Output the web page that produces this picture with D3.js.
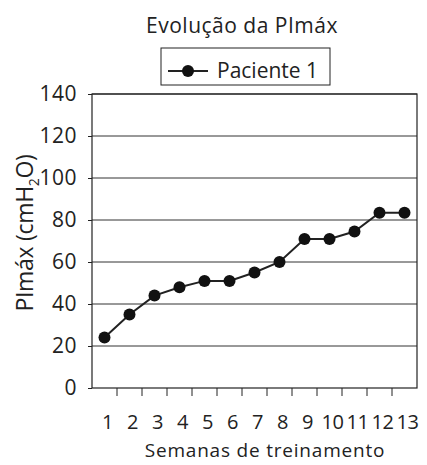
<!DOCTYPE html>
<html>
<head>
<meta charset="utf-8">
<script src="https://cdn.jsdelivr.net/npm/d3@7"></script>
<style>
  body { margin: 0; background: #fff; }
  text { font-family: "Open Sans", "DejaVu Sans", sans-serif; fill: #222; }
</style>
</head>
<body>
<div id="chart"></div>
<script>
const weeks = ["1", "2", "3", "4", "5", "6", "7", "8", "9", "10", "11", "12", "13"];
const pimax = [24, 35, 44, 48, 51, 51, 55, 60, 71, 71, 74.5, 83.5, 83.5];
const yTicks = [0, 20, 40, 60, 80, 100, 120, 140];

const width = 427, height = 465;
const margin = {top: 94, right: 10, bottom: 77, left: 92};

const svg = d3.select("#chart").append("svg")
    .attr("width", width)
    .attr("height", height);

const x = d3.scaleBand()
    .domain(weeks)
    .range([margin.left, width - margin.right]);

const y = d3.scaleLinear()
    .domain([0, 140])
    .range([height - margin.bottom, margin.top]);

// gridlines
svg.append("g")
  .selectAll("line")
    .data(yTicks.slice(1))
  .enter()
    .append("line")
    .attr("x1", margin.left)
    .attr("x2", width - margin.right)
    .attr("y1", d => y(d))
    .attr("y2", d => y(d))
    .style("stroke", "#333")
    .style("stroke-width", 1);

// frame
svg.append("rect")
    .attr("x", margin.left)
    .attr("y", margin.top)
    .attr("width", width - margin.left - margin.right)
    .attr("height", height - margin.top - margin.bottom)
    .style("fill", "none")
    .style("stroke", "#222")
    .style("stroke-width", 1.2);

// y axis
const yAxis = svg.append("g")
    .attr("transform", "translate(" + margin.left + ",0)")
    .call(d3.axisLeft(y).tickValues(yTicks).tickSize(4).tickPadding(11));
yAxis.select(".domain").remove();
yAxis.selectAll("line").style("stroke", "#222");
yAxis.selectAll("text")
    .style("font-size", "21px")
    .style("font-family", '"Open Sans", sans-serif')
    .style("letter-spacing", "0.5px")
    .attr("fill", "#222");

// x axis: ticks between categories, labels at category centres
const bounds = weeks.slice(1).map(d => x(d));
svg.append("g")
  .selectAll("line")
    .data(bounds)
  .enter()
    .append("line")
    .attr("x1", d => d)
    .attr("x2", d => d)
    .attr("y1", y(0))
    .attr("y2", y(0) + 8)
    .style("stroke", "#222");

svg.append("g")
  .selectAll("text")
    .data(weeks)
  .enter()
    .append("text")
    .attr("x", d => x(d) + x.bandwidth() / 2 + 3)
    .attr("y", y(0) + 41)
    .attr("text-anchor", "middle")
    .style("font-size", "20px")
    .style("letter-spacing", "-0.5px")
    .text(d => d);

// line + markers
const line = d3.line()
    .x((d, i) => x(weeks[i]) + x.bandwidth() / 2)
    .y(d => y(d));

svg.append("path")
    .datum(pimax)
    .attr("d", line)
    .style("fill", "none")
    .style("stroke", "#222")
    .style("stroke-width", 2);

svg.append("g")
  .selectAll("circle")
    .data(pimax)
  .enter()
    .append("circle")
    .attr("cx", (d, i) => x(weeks[i]) + x.bandwidth() / 2)
    .attr("cy", d => y(d))
    .attr("r", 6)
    .style("fill", "#111");

// title
svg.append("text")
    .attr("x", 242)
    .attr("y", 33)
    .attr("text-anchor", "middle")
    .style("font-size", "21px")
    .style("letter-spacing", "0.5px")
    .text("Evolução da PImáx");

// legend
const legend = svg.append("g");
legend.append("rect")
    .attr("x", 161).attr("y", 48)
    .attr("width", 169).attr("height", 37)
    .style("fill", "none")
    .style("stroke", "#222");
legend.append("line")
    .attr("x1", 168).attr("x2", 208)
    .attr("y1", 71).attr("y2", 71)
    .style("stroke", "#222")
    .style("stroke-width", 2);
legend.append("circle")
    .attr("cx", 188).attr("cy", 71).attr("r", 6)
    .style("fill", "#111");
legend.append("text")
    .attr("x", 217).attr("y", 78)
    .style("font-size", "21px")
    .text("Paciente 1");

// axis titles
svg.append("text")
    .attr("x", 265)
    .attr("y", 457)
    .attr("text-anchor", "middle")
    .style("font-size", "19px")
    .style("letter-spacing", "0.8px")
    .text("Semanas de treinamento");

const yTitle = svg.append("text")
    .attr("transform", "translate(33,233) rotate(-90)")
    .attr("text-anchor", "middle")
    .style("font-size", "23px")
    .style("letter-spacing", "-0.3px");
yTitle.append("tspan").text("PImáx (cmH");
yTitle.append("tspan").attr("dy", 6).style("font-size", "14px").text("2");
yTitle.append("tspan").attr("dy", -6).text("O)");
</script>
</body>
</html>
